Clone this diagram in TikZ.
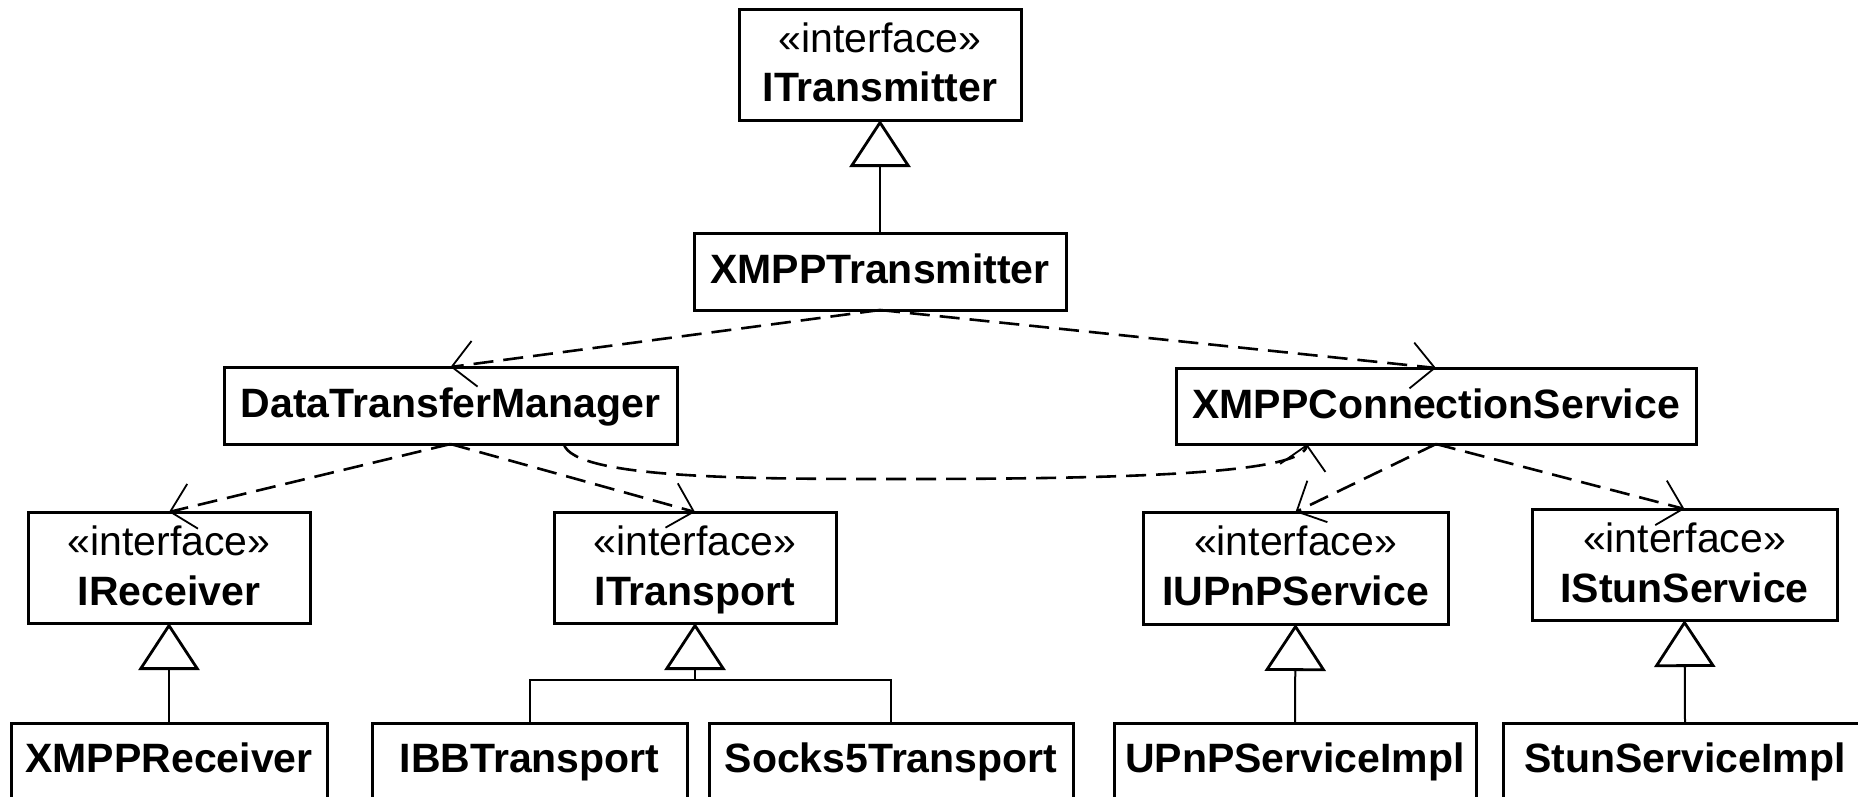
\documentclass[tikz,border=0pt]{standalone}
\usepackage{fontspec}
\setmainfont{Liberation Sans}
\usetikzlibrary{arrows.meta,calc}
\tikzset{
  box/.style={draw, line width=3pt, inner sep=0pt, outer sep=0pt, fill=white},
  nm/.style={anchor=base, inner sep=0pt, font=\fontsize{41}{49}\selectfont\bfseries},
  st/.style={anchor=base, inner sep=0pt, font=\fontsize{41}{49}\selectfont},
  dep/.style={line width=2.6pt, dash pattern=on 20pt off 10pt,
    -{Straight Barb[length=23pt,width=46pt,line width=1.8pt]}},
  gen/.style={line width=2pt, -{Triangle[open,length=47pt,width=61pt,line width=2.8pt]}},
  solid2/.style={line width=2pt}
}
\begin{document}
\begin{tikzpicture}[x=1pt,y=-1pt]
\useasboundingbox (0,0) rectangle (1858,796);
\clip (0,0) rectangle (1858,796);
\fill[white] (0,0) rectangle (1858,796);

% boxes
\node[box, minimum width=282pt, minimum height=111pt] (itr) at (880,64.5) {};
\node[box, minimum width=372pt, minimum height=77pt] (xtr) at (880,271.5) {};
\node[box, minimum width=453pt, minimum height=77pt] (dtm) at (450.5,405.5) {};
\node[box, minimum width=520pt, minimum height=76pt] (xcs) at (1436,406) {};
\node[box, minimum width=282pt, minimum height=111pt] (irc) at (169,567.5) {};
\node[box, minimum width=282pt, minimum height=111pt] (itp) at (695,567.5) {};
\node[box, minimum width=305pt, minimum height=112pt] (iup) at (1295.5,568) {};
\node[box, minimum width=305pt, minimum height=111pt] (ist) at (1684.5,564.5) {};
\node[box, minimum width=316pt, minimum height=77pt] (xrc) at (169,761.5) {};
\node[box, minimum width=315pt, minimum height=77pt] (ibb) at (529.5,761.5) {};
\node[box, minimum width=364pt, minimum height=77pt] (s5t) at (891,761.5) {};
\node[box, minimum width=362pt, minimum height=77pt] (upi) at (1295,761.5) {};
\node[box, minimum width=364pt, minimum height=77pt] (ssi) at (1685,761.5) {};

% texts
\node[st] (itr-s) at ([yshift=-43pt]itr.north) {«interface»};
\node[nm] (itr-n) at ([yshift=-92pt]itr.north) {ITransmitter};
\node[nm] (xtr-n) at ([yshift=-50pt]xtr.north) {XMPPTransmitter};
\node[nm] (dtm-n) at ([yshift=-50pt]dtm.north) {DataTransferManager};
\node[nm] (xcs-n) at ([yshift=-50pt]xcs.north) {XMPPConnectionService};
\node[st] (irc-s) at ([yshift=-43pt]irc.north) {«interface»};
\node[nm] (irc-n) at ([yshift=-93pt]irc.north) {IReceiver};
\node[st] (itp-s) at ([yshift=-43pt]itp.north) {«interface»};
\node[nm] (itp-n) at ([yshift=-93pt]itp.north) {ITransport};
\node[st] (iup-s) at ([yshift=-43pt]iup.north) {«interface»};
\node[nm] (iup-n) at ([yshift=-93pt]iup.north) {IUPnPService};
\node[st] (ist-s) at ([yshift=-43pt]ist.north) {«interface»};
\node[nm] (ist-n) at ([yshift=-93pt]ist.north) {IStunService};
\node[nm] (xrc-n) at ([yshift=-49pt]xrc.north) {XMPPReceiver};
\node[nm] (ibb-n) at ([yshift=-49pt]ibb.north) {IBBTransport};
\node[nm] (s5t-n) at ([yshift=-49pt]s5t.north) {Socks5Transport};
\node[nm] (upi-n) at ([yshift=-49pt]upi.north) {UPnPServiceImpl};
\node[nm] (ssi-n) at ([yshift=-49pt]ssi.north) {StunServiceImpl};

% generalizations
\draw[gen] (xtr.north) -- (itr.south);
\draw[gen] (xrc.north) -- (irc.south);
\coordinate (fork) at (695,680);
\draw[solid2] (ibb.north) |- (fork) -| (s5t.north);
\draw[gen] (fork) -- (itp.south);
\draw[gen] (upi.north) -- (iup.south);
\draw[gen] (ssi.north) -- (ist.south);

% dependencies
\draw[dep] (xtr.south) -- (dtm.north);
\draw[dep] (xtr.south) -- (xcs.north);
\draw[dep] (dtm.south) -- (irc.north);
\draw[dep] (dtm.south) -- (itp.north);
\draw[dep] (xcs.south) -- (iup.north);
\draw[dep] (xcs.south) -- (ist.north);
\coordinate (cmid) at (902,479);
\draw[dep] ($(dtm.south west)!0.75!(dtm.south east)$) .. controls +(10,35) and +(-150,0) .. (cmid)
  .. controls +(250,0) and +(-5,28) .. ($(xcs.south west)!0.252!(xcs.south east)$);
\end{tikzpicture}
\end{document}
